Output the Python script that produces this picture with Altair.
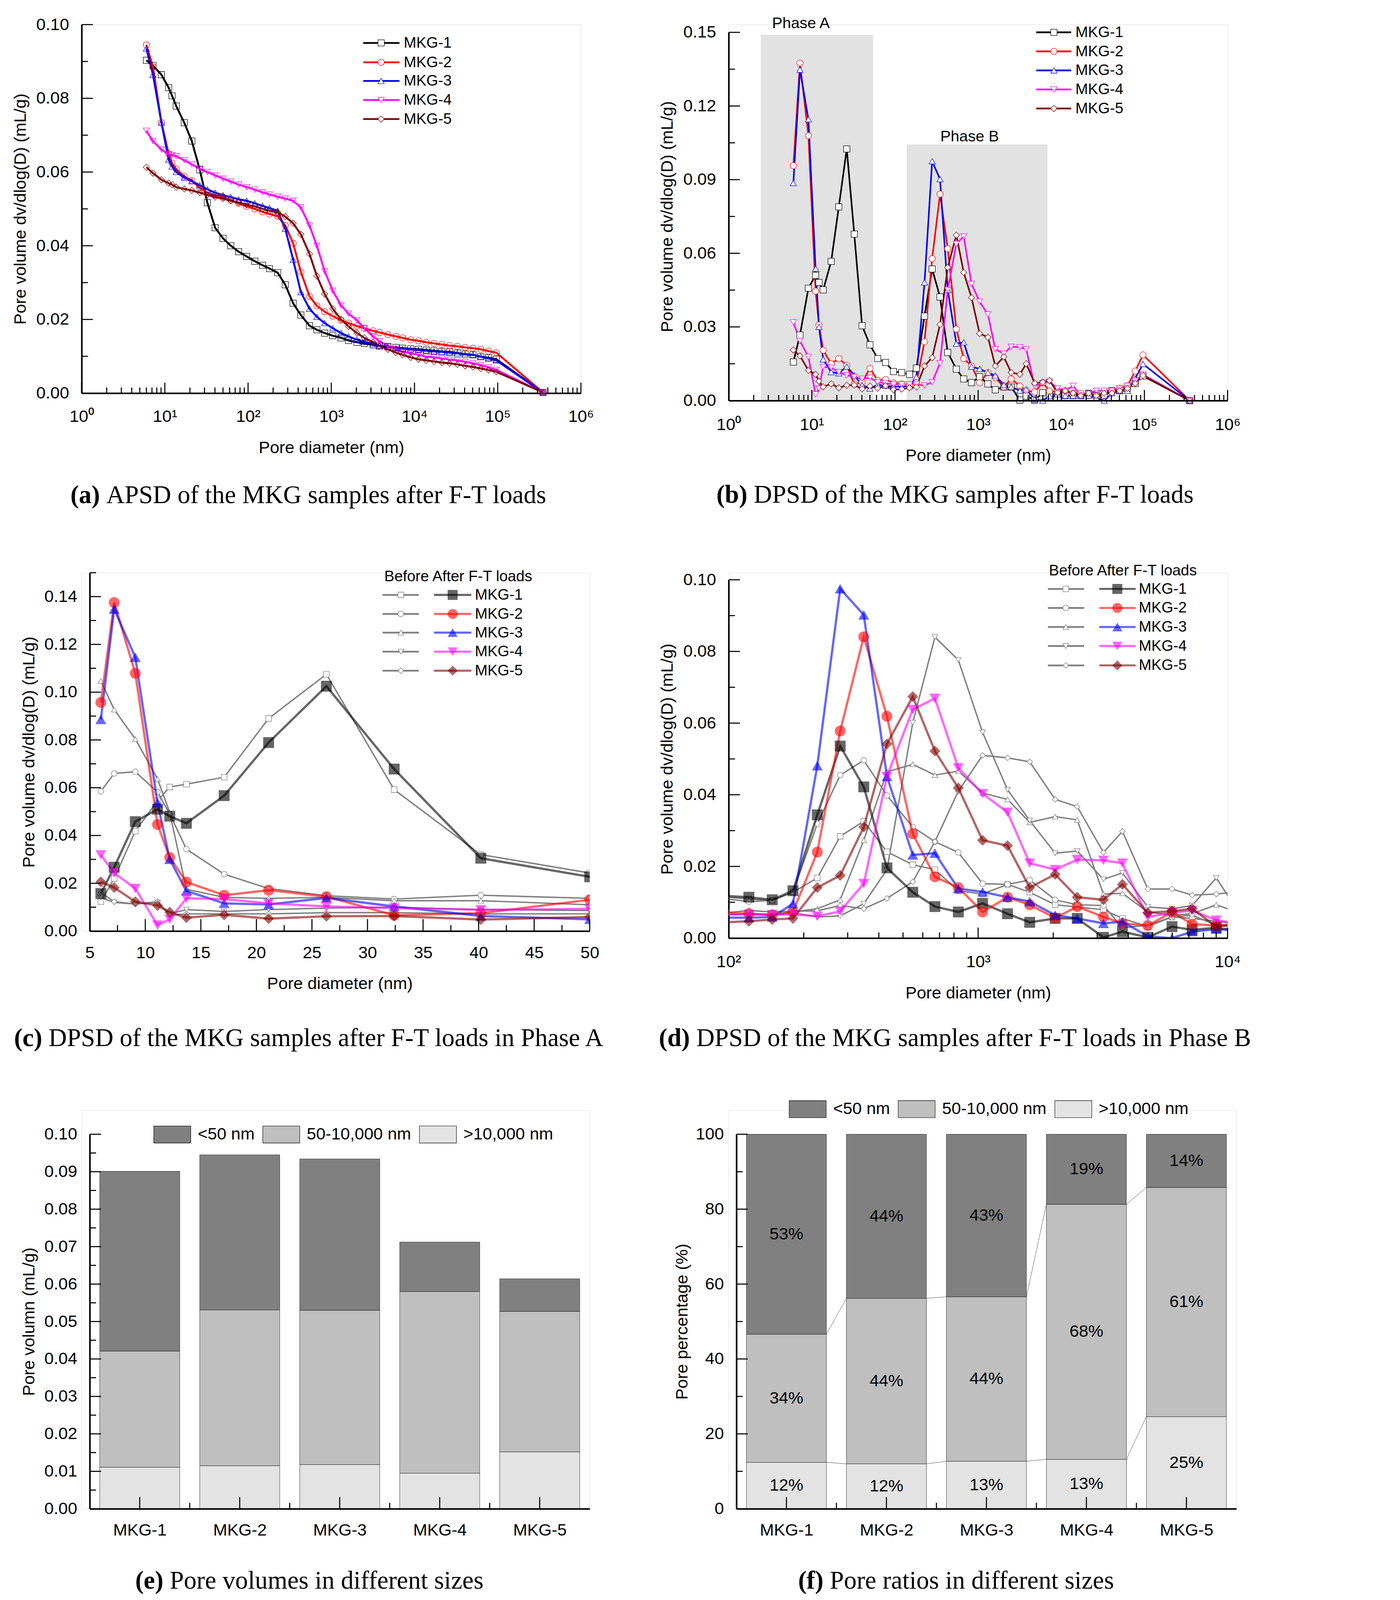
import json
import altair as alt
import numpy as np
import pandas as pd

# ---------------- data ----------------
SERIES = ["MKG-1", "MKG-2", "MKG-3", "MKG-4", "MKG-5"]
COLORS = ["#000000", "#ff0000", "#0000ff", "#ff00ff", "#800000"]
SHAPES = ["square", "circle", "triangle-up", "triangle-down", "diamond"]
BEFORE_COLOR = "#808080"

# pore diameters (nm) of the intrusion points
D_ALL = [6.0, 7.2, 9.1, 11.1, 12.2, 13.7, 17.1, 21.1, 26.3, 32.4, 40.2, 50.0,
         62, 77, 96,
         120.5, 149.5, 181, 226.6, 280, 348, 431, 547, 671, 833,
         1042, 1312, 1610, 2036, 2496, 3180, 3788, 4787, 5987, 7210, 9010,
         11170, 13850, 17180, 21300, 26400, 32800, 40600, 50400, 62500, 77500, 96100,
         350000]

# (a) APSD
APSD_MKG1 = [0.0903, 0.0889, 0.0864, 0.0829, 0.0807, 0.0779, 0.0734, 0.0684, 0.0606, 0.0517, 0.0449, 0.0420,
             0.0400, 0.0384, 0.0371,
             0.0358, 0.0347, 0.0338, 0.0327, 0.0294, 0.0244, 0.0212, 0.0183, 0.0172, 0.0163,
             0.0156, 0.0150, 0.0143, 0.0138, 0.0135, 0.0131, 0.0128, 0.0126, 0.0124, 0.0122, 0.0120,
             0.0119, 0.0117, 0.0115, 0.0113, 0.0112, 0.0109, 0.0106, 0.0104, 0.0099, 0.0096, 0.0092,
             0.0002]
APSD_MKG2 = [0.0945, 0.0885, 0.0734, 0.0650, 0.0624, 0.0608, 0.0588, 0.0577, 0.0557, 0.0544, 0.0537, 0.0532,
             0.0524, 0.0515, 0.0507,
             0.0500, 0.0492, 0.0486, 0.0480, 0.0455, 0.0407, 0.0329, 0.0263, 0.0237, 0.0221,
             0.0209, 0.0198, 0.0190, 0.0182, 0.0176, 0.0169, 0.0165, 0.0159, 0.0154, 0.0150, 0.0145,
             0.0142, 0.0138, 0.0135, 0.0132, 0.0129, 0.0127, 0.0124, 0.0122, 0.0119, 0.0114, 0.0110,
             0.0002]
APSD_MKG3 = [0.0935, 0.0864, 0.0734, 0.0634, 0.0615, 0.0600, 0.0585, 0.0575, 0.0564, 0.0553, 0.0544, 0.0537,
             0.0532, 0.0526, 0.0522,
             0.0515, 0.0508, 0.0502, 0.0495, 0.0446, 0.0362, 0.0274, 0.0229, 0.0207, 0.0190,
             0.0176, 0.0163, 0.0154, 0.0145, 0.0139, 0.0134, 0.0129, 0.0126, 0.0122, 0.0120, 0.0119,
             0.0117, 0.0115, 0.0113, 0.0112, 0.0110, 0.0108, 0.0105, 0.0104, 0.0099, 0.0094, 0.0089,
             0.0002]
APSD_MKG4 = [0.0712, 0.0684, 0.0661, 0.0648, 0.0646, 0.0643, 0.0632, 0.0621, 0.0609, 0.0600, 0.0591, 0.0582,
             0.0574, 0.0566, 0.0559,
             0.0552, 0.0545, 0.0539, 0.0533, 0.0528, 0.0522, 0.0504, 0.0455, 0.0400, 0.0331,
             0.0278, 0.0238, 0.0216, 0.0198, 0.0176, 0.0154, 0.0141, 0.0128, 0.0119, 0.0112, 0.0108,
             0.0104, 0.0099, 0.0097, 0.0094, 0.0091, 0.0089, 0.0085, 0.0081, 0.0076, 0.0070, 0.0063,
             0.0002]
APSD_MKG5 = [0.0613, 0.0597, 0.0579, 0.0570, 0.0566, 0.0559, 0.0554, 0.0550, 0.0544, 0.0538, 0.0532, 0.0528,
             0.0522, 0.0517, 0.0511,
             0.0507, 0.0500, 0.0495, 0.0491, 0.0479, 0.0461, 0.0431, 0.0378, 0.0318, 0.0269,
             0.0229, 0.0200, 0.0181, 0.0163, 0.0150, 0.0138, 0.0128, 0.0119, 0.0110, 0.0104, 0.0097,
             0.0092, 0.0089, 0.0086, 0.0083, 0.0081, 0.0078, 0.0074, 0.0071, 0.0067, 0.0063, 0.0058,
             0.0002]

# (b) DPSD after F-T loads (also the "after" curves of c and d)
DPSD_MKG1 = [0.0157, 0.0267, 0.0458, 0.0510, 0.0481, 0.0451, 0.0567, 0.0789, 0.1025, 0.0678, 0.0305, 0.0227,
             0.0171, 0.0155, 0.0118,
             0.0114, 0.0107, 0.0132, 0.0344, 0.0536, 0.0422, 0.0196, 0.0128, 0.0088, 0.0073,
             0.0097, 0.0068, 0.0044, 0.0055, 0.0055, 0.0002, 0.0018, 0.0002, 0.0032, 0.0023, 0.0029,
             0.0020, 0.0020, 0.0020, 0.0030, 0.0020, 0.0030, 0.0040, 0.0040, 0.0050, 0.0070, 0.0100,
             0.0000]
DPSD_MKG2 = [0.0957, 0.1375, 0.1079, 0.0446, 0.0308, 0.0205, 0.0150, 0.0171, 0.0144, 0.0066, 0.0075, 0.0131,
             0.0082, 0.0086, 0.0072,
             0.0068, 0.0064, 0.0073, 0.0240, 0.0578, 0.0841, 0.0619, 0.0291, 0.0171, 0.0141,
             0.0073, 0.0114, 0.0093, 0.0056, 0.0088, 0.0059, 0.0041, 0.0035, 0.0073, 0.0039, 0.0035,
             0.0040, 0.0030, 0.0030, 0.0020, 0.0020, 0.0020, 0.0040, 0.0050, 0.0060, 0.0120, 0.0186,
             0.0000]
DPSD_MKG3 = [0.0886, 0.1348, 0.1146, 0.0537, 0.0300, 0.0168, 0.0116, 0.0111, 0.0139, 0.0103, 0.0063, 0.0049,
             0.0065, 0.0060, 0.0057,
             0.0057, 0.0059, 0.0096, 0.0481, 0.0975, 0.0902, 0.0451, 0.0232, 0.0237, 0.0138,
             0.0129, 0.0114, 0.0102, 0.0064, 0.0055, 0.0041, 0.0046, 0.0005, 0.0000, 0.0018, 0.0025,
             0.0020, 0.0020, 0.0020, 0.0020, 0.0010, 0.0000, 0.0030, 0.0040, 0.0040, 0.0090, 0.0149,
             0.0000]
DPSD_MKG4 = [0.0319, 0.0243, 0.0178, 0.0025, 0.0049, 0.0137, 0.0134, 0.0116, 0.0103, 0.0096, 0.0089, 0.0093,
             0.0075, 0.0070, 0.0066,
             0.0066, 0.0066, 0.0066, 0.0061, 0.0075, 0.0152, 0.0451, 0.0638, 0.0669, 0.0475,
             0.0403, 0.0351, 0.0209, 0.0191, 0.0219, 0.0217, 0.0209, 0.0059, 0.0071, 0.0077, 0.0050,
             0.0040, 0.0060, 0.0020, 0.0030, 0.0040, 0.0040, 0.0040, 0.0050, 0.0060, 0.0080, 0.0106,
             0.0000]
DPSD_MKG5 = [0.0206, 0.0182, 0.0123, 0.0107, 0.0079, 0.0056, 0.0068, 0.0052, 0.0062, 0.0063, 0.0048, 0.0059,
             0.0050, 0.0060, 0.0044,
             0.0047, 0.0052, 0.0055, 0.0141, 0.0175, 0.0310, 0.0542, 0.0674, 0.0522, 0.0419,
             0.0273, 0.0258, 0.0141, 0.0178, 0.0114, 0.0107, 0.0150, 0.0071, 0.0075, 0.0082, 0.0032,
             0.0040, 0.0030, 0.0020, 0.0030, 0.0020, 0.0030, 0.0030, 0.0040, 0.0050, 0.0070, 0.0102,
             0.0000]

# (c) Phase A, before F-T loads (diameters = D_ALL[:12])
BEFORE_A_MKG1 = [0.0123, 0.0220, 0.0418, 0.0545, 0.0603, 0.0615, 0.0644, 0.0890, 0.1075, 0.0592, 0.0320, 0.0243]
BEFORE_A_MKG2 = [0.0585, 0.0660, 0.0667, 0.0582, 0.0490, 0.0343, 0.0238, 0.0178, 0.0148, 0.0134, 0.0150, 0.0137]
BEFORE_A_MKG3 = [0.1047, 0.0927, 0.0804, 0.0637, 0.0496, 0.0175, 0.0141, 0.0137, 0.0141, 0.0127, 0.0127, 0.0110]
BEFORE_A_MKG4 = [0.0140, 0.0120, 0.0113, 0.0120, 0.0072, 0.0090, 0.0082, 0.0090, 0.0096, 0.0100, 0.0090, 0.0086]
BEFORE_A_MKG5 = [0.0161, 0.0123, 0.0113, 0.0123, 0.0066, 0.0072, 0.0072, 0.0072, 0.0077, 0.0077, 0.0072, 0.0072]

# (d) Phase B, before F-T loads (diameters = D_ALL[14:37])
BEFORE_B_MKG1 = [0.0115, 0.0109, 0.0105, 0.0128, 0.0168, 0.0284, 0.0326, 0.0241, 0.0205, 0.0191, 0.0132,
                 0.0123, 0.0150, 0.0128, 0.0093, 0.0087, 0.0079, 0.0055, 0.0032, 0.0059, 0.0064, 0.0036, 0.0030]
BEFORE_B_MKG2 = [0.0110, 0.0102, 0.0105, 0.0128, 0.0319, 0.0455, 0.0496, 0.0398, 0.0310, 0.0269, 0.0239,
                 0.0152, 0.0150, 0.0162, 0.0107, 0.0093, 0.0091, 0.0029, 0.0036, 0.0059, 0.0055, 0.0047, 0.0040]
BEFORE_B_MKG3 = [0.0065, 0.0068, 0.0064, 0.0073, 0.0082, 0.0107, 0.0273, 0.0464, 0.0485, 0.0455, 0.0466,
                 0.0405, 0.0387, 0.0323, 0.0339, 0.0330, 0.0123, 0.0125, 0.0073, 0.0064, 0.0068, 0.0093, 0.0070]
BEFORE_B_MKG4 = [0.0065, 0.0068, 0.0066, 0.0071, 0.0059, 0.0062, 0.0096, 0.0191, 0.0601, 0.0840, 0.0776,
                 0.0574, 0.0414, 0.0328, 0.0237, 0.0243, 0.0164, 0.0182, 0.0087, 0.0082, 0.0091, 0.0168, 0.0068]
BEFORE_B_MKG5 = [0.0070, 0.0077, 0.0073, 0.0075, 0.0076, 0.0091, 0.0082, 0.0111, 0.0157, 0.0269, 0.0410,
                 0.0510, 0.0503, 0.0492, 0.0387, 0.0367, 0.0239, 0.0298, 0.0137, 0.0137, 0.0120, 0.0123, 0.0130]

# phase bands of (b)
PHASE_NAMES = ["Phase A", "Phase B"]
PHASE_X1 = [2.43, 138]
PHASE_X2 = [54.6, 6840]
PHASE_TOP = [0.149, 0.1044]
PHASE_LABEL_X = [7.4, 791]
PHASE_LABEL_Y = [0.1537, 0.1075]

# (e) pore volumes (mL/g) and (f) ratios (%)
CLASSES = ["<50 nm", "50-10,000 nm", ">10,000 nm"]
BAR_COLORS = ["#808080", "#bfbfbf", "#e3e3e3"]
VOL_LT50 = [0.0480, 0.0414, 0.0404, 0.0132, 0.0087]
VOL_MID = [0.0310, 0.0416, 0.0412, 0.0485, 0.0375]
VOL_GT10K = [0.0111, 0.0115, 0.0118, 0.0095, 0.0152]
PCT_LT50 = [53.4, 43.8, 43.4, 18.7, 14.2]
PCT_MID = [34.2, 44.2, 43.9, 68.1, 61.2]
PCT_GT10K = [12.4, 12.0, 12.7, 13.2, 24.6]

for lst in (APSD_MKG1, APSD_MKG2, APSD_MKG3, APSD_MKG4, APSD_MKG5,
            DPSD_MKG1, DPSD_MKG2, DPSD_MKG3, DPSD_MKG4, DPSD_MKG5):
    assert len(lst) == len(D_ALL)
for lst in (BEFORE_B_MKG1, BEFORE_B_MKG2, BEFORE_B_MKG3, BEFORE_B_MKG4, BEFORE_B_MKG5):
    assert len(lst) == 23

# ---------------- layout scale ----------------
# all geometry below is written in reference-image pixels and converted to CSS px with S
S = 0.902


def P(v):
    return v * S


FONT = "Liberation Sans"
SERIF = "Liberation Serif"
CAP_FS = 72
ONE = pd.DataFrame({"k": [0]})
COLOR_SC = alt.Scale(domain=SERIES, range=COLORS)
SHAPE_SC = alt.Scale(domain=SERIES, range=SHAPES)

SUPS = ["\u2070", "\u00b9", "\u00b2", "\u00b3", "\u2074", "\u2075", "\u2076"]
LOG_LABEL = "'10' + " + json.dumps(SUPS, ensure_ascii=False) + "[round(log(datum.value) / LN10)]"
CAT_LABEL = json.dumps([""] + SERIES) + "[datum.value]"

REG_W = {' ': 250, '(': 333, ')': 333, '-': 333, 'A': 722, 'B': 667, 'D': 722, 'F': 556, 'G': 722,
         'K': 722, 'M': 889, 'P': 556, 'S': 556, 'T': 611, 'a': 444, 'b': 500, 'c': 444, 'd': 500,
         'e': 444, 'f': 333, 'g': 500, 'h': 500, 'i': 278, 'l': 278, 'm': 778, 'n': 500, 'o': 500,
         'p': 500, 'r': 333, 's': 389, 't': 278, 'u': 500, 'v': 500, 'z': 444}
BOLD_W = {'(': 333, ')': 333, 'a': 500, 'b': 556, 'c': 444, 'd': 556, 'e': 444, 'f': 333}


def tw(s, table):
    return sum(table.get(ch, 500) for ch in s) / 1000.0


def long_df(xs, lists):
    rows = []
    for name, ys in zip(SERIES, lists):
        for x, y in zip(xs, ys):
            rows.append({"x": x, "y": y, "s": name})
    return pd.DataFrame(rows)


def make_x_axis(title, values, pad, title_y=None, fmt=None, label_expr=None, z=0):
    kw = dict(values=values, ticks=False, grid=False, domainColor="black", domainWidth=P(4.5),
              labelFont=FONT, labelFontSize=P(48), labelColor="black", labelPadding=P(pad),
              labelFlush=False, labelOverlap=False, labelAngle=0, zindex=z)
    if fmt:
        kw["format"] = fmt
    if label_expr:
        kw["labelExpr"] = label_expr
    if title:
        kw.update(title=title, titleFont=FONT, titleFontSize=P(48), titleFontWeight="normal",
                  titleColor="black", titleY=P(title_y), titleBaseline="middle")
    else:
        kw["title"] = None
    return alt.Axis(**kw)


def make_y_axis(title, values, title_x, fmt, offset=0, z=0):
    kw = dict(values=values, ticks=False, grid=False, domainColor="black", domainWidth=P(4.5),
              labelFont=FONT, labelFontSize=P(48), labelColor="black", labelPadding=P(36),
              labelOverlap=False, labelFlush=False, format=fmt,
              title=title, titleFont=FONT, titleFontSize=P(48), titleFontWeight="normal",
              titleColor="black", titleX=P(title_x), titleAngle=270, titleBaseline="middle", zindex=z)
    if offset:
        kw["offset"] = P(offset)
    return alt.Axis(**kw)


def tick_layers(xsc, ysc, xax, yax, xmaj, xmin, ymaj, ymin, offx, bottom, xl=(30, 16), yl=(32, 18)):
    out = []
    for vals, ln in ((ymaj, yl[0]), (ymin, yl[1])):
        out.append(alt.Chart(pd.DataFrame({"y": vals})).mark_rule(color="black", strokeWidth=P(3)).encode(
            y=alt.Y("y:Q", scale=ysc, axis=yax), x=alt.value(P(offx)), x2=alt.value(P(offx + ln))))
    for vals, ln in ((xmaj, xl[0]), (xmin, xl[1])):
        out.append(alt.Chart(pd.DataFrame({"x": vals})).mark_rule(color="black", strokeWidth=P(3)).encode(
            x=alt.X("x:Q", scale=xsc, axis=xax), y=alt.value(P(bottom)), y2=alt.value(P(bottom - ln))))
    return out


def caption(letter, text, cx, cy):
    b = "(" + letter + ")"
    wb = tw(b, BOLD_W) * CAP_FS
    ws = 0.25 * CAP_FS
    wr = tw(text, REG_W) * CAP_FS
    left = cx - (wb + ws + wr) / 2
    return [
        alt.Chart(ONE).mark_text(font=SERIF, fontSize=P(CAP_FS), fontWeight="bold", align="left",
                                 baseline="middle", color="black").encode(
            x=alt.value(P(left)), y=alt.value(P(cy)), text=alt.value(b)),
        alt.Chart(ONE).mark_text(font=SERIF, fontSize=P(CAP_FS), align="left", baseline="middle",
                                 color="black").encode(
            x=alt.value(P(left + wb + ws)), y=alt.value(P(cy)), text=alt.value(text)),
    ]


def legend_ab(rows, x0, x1, xm, xl, lw):
    out = []
    for i, name in enumerate(SERIES):
        y = P(rows[i])
        out.append(alt.Chart(ONE).mark_rule(color=COLORS[i], strokeWidth=P(lw)).encode(
            x=alt.value(P(x0)), x2=alt.value(P(x1)), y=alt.value(y)))
        out.append(alt.Chart(ONE).mark_point(shape=SHAPES[i], filled=True, fill="white", stroke=COLORS[i],
                                             strokeWidth=P(1.4), size=P(P(320)), opacity=1).encode(
            x=alt.value(P(xm)), y=alt.value(y)))
        out.append(alt.Chart(ONE).mark_text(font=FONT, fontSize=P(43), align="left", baseline="middle",
                                            color="black").encode(
            x=alt.value(P(xl)), y=alt.value(y), text=alt.value(name)))
    return out


def legend_cd(hx, hy, rows, bx0, bx1, bm, ax0, ax1, am, xl):
    out = [alt.Chart(ONE).mark_text(font=FONT, fontSize=P(43), align="left", baseline="middle",
                                    color="black").encode(
        x=alt.value(P(hx)), y=alt.value(P(hy)), text=alt.value("Before After F-T loads"))]
    for i, name in enumerate(SERIES):
        y = P(rows[i])
        out.append(alt.Chart(ONE).mark_rule(color=BEFORE_COLOR, strokeWidth=P(5)).encode(
            x=alt.value(P(bx0)), x2=alt.value(P(bx1)), y=alt.value(y)))
        out.append(alt.Chart(ONE).mark_point(shape=SHAPES[i], filled=True, fill="white", stroke=BEFORE_COLOR,
                                             strokeWidth=P(1.5), size=P(P(260)), opacity=1).encode(
            x=alt.value(P(bm)), y=alt.value(y)))
        out.append(alt.Chart(ONE).mark_rule(color=COLORS[i], strokeWidth=P(6), opacity=0.6).encode(
            x=alt.value(P(ax0)), x2=alt.value(P(ax1)), y=alt.value(y)))
        out.append(alt.Chart(ONE).mark_point(shape=SHAPES[i], filled=True, color=COLORS[i], size=P(P(800)),
                                             opacity=0.6, strokeWidth=0).encode(
            x=alt.value(P(am)), y=alt.value(y)))
        out.append(alt.Chart(ONE).mark_text(font=FONT, fontSize=P(43), align="left", baseline="middle",
                                            color="black").encode(
            x=alt.value(P(xl)), y=alt.value(y), text=alt.value(name)))
    return out


def xscale(OX, W, **kw):
    return alt.Scale(range=[P(OX), P(OX + W)], **kw)


def yscale(OY, H, dom):
    return alt.Scale(domain=dom, range=[P(OY + H), P(OY)], nice=False, zero=False)


LOG_MAJ_6 = [10.0 ** e for e in range(7)]
LOG_MIN_6 = [k * 10.0 ** e for e in range(6) for k in range(2, 10)]

# ---------------- panel (a) ----------------
OX, OY, W, H = 0, 0, 1417, 1046
xs = xscale(OX, W, type="log", domain=[1, 1e6])
ys = yscale(OY, H, [0, 0.10])
xax = make_x_axis("Pore diameter (nm)", LOG_MAJ_6, 43, 155, label_expr=LOG_LABEL)
yax = make_y_axis("Pore volume dv/dlog(D) (mL/g)", [0, 0.02, 0.04, 0.06, 0.08, 0.10], -174, ".2f")
df_a = long_df(D_ALL, [APSD_MKG1, APSD_MKG2, APSD_MKG3, APSD_MKG4, APSD_MKG5])
layers = [
    alt.Chart(df_a).mark_line(strokeWidth=P(5.5)).encode(
        x=alt.X("x:Q", scale=xs, axis=xax), y=alt.Y("y:Q", scale=ys, axis=yax),
        color=alt.Color("s:N", scale=COLOR_SC, legend=None)),
    alt.Chart(df_a).mark_point(filled=False, size=P(P(320)), strokeWidth=P(1.4), opacity=1).encode(
        x=alt.X("x:Q", scale=xs, axis=xax), y=alt.Y("y:Q", scale=ys, axis=yax),
        color=alt.Color("s:N", scale=COLOR_SC, legend=None),
        shape=alt.Shape("s:N", scale=SHAPE_SC, legend=None)),
]
layers += tick_layers(xs, ys, xax, yax, LOG_MAJ_6, LOG_MIN_6, [0, 0.02, 0.04, 0.06, 0.08, 0.10],
                      [0.01, 0.03, 0.05, 0.07, 0.09], OX, OY + H)
layers += legend_ab([52, 107, 160, 214, 268], 799, 902, 850, 914, 5)
layers += caption("a", "APSD of the MKG samples after F-T loads", 644, 1337)
# invisible anchor fixing the top-left of the whole figure (page margin is 8 CSS px)
layers.append(alt.Chart(ONE).mark_rule(opacity=0, strokeWidth=1).encode(
    x=alt.value(-(P(231) - 8) + 0.5), x2=alt.value(-(P(231) - 8) + 1.5), y=alt.value(-(P(69) - 8) + 0.5)))
panel_a = alt.layer(*layers).properties(width=P(OX + W), height=P(OY + H))

# ---------------- panel (b) ----------------
OX, OY, W, H = 0, 22, 1416, 1045
xs = xscale(OX, W, type="log", domain=[1, 1e6])
ys = yscale(OY, H, [0, 0.15])
xax = make_x_axis("Pore diameter (nm)", LOG_MAJ_6, 45, 156, label_expr=LOG_LABEL, z=1)
yax = make_y_axis("Pore volume dv/dlog(D) (mL/g)", [0, 0.03, 0.06, 0.09, 0.12, 0.15], -174, ".2f", z=1)
df_b = long_df(D_ALL, [DPSD_MKG1, DPSD_MKG2, DPSD_MKG3, DPSD_MKG4, DPSD_MKG5])
df_phase = pd.DataFrame({"x": PHASE_X1, "x2": PHASE_X2, "y": [0, 0], "y2": PHASE_TOP})
df_plab = pd.DataFrame({"x": PHASE_LABEL_X, "y": PHASE_LABEL_Y, "t": PHASE_NAMES})
layers = [
    alt.Chart(df_phase).mark_rect(color="#e2e2e2").encode(
        x=alt.X("x:Q", scale=xs, axis=xax), x2="x2:Q",
        y=alt.Y("y:Q", scale=ys, axis=yax), y2="y2:Q"),
    alt.Chart(df_plab).mark_text(font=FONT, fontSize=P(44), color="black", baseline="middle").encode(
        x=alt.X("x:Q", scale=xs, axis=xax), y=alt.Y("y:Q", scale=ys, axis=yax), text="t:N"),
    alt.Chart(df_b).mark_line(strokeWidth=P(4.5)).encode(
        x=alt.X("x:Q", scale=xs, axis=xax), y=alt.Y("y:Q", scale=ys, axis=yax),
        color=alt.Color("s:N", scale=COLOR_SC, legend=None)),
    alt.Chart(df_b).mark_point(filled=True, fill="white", size=P(P(320)), strokeWidth=P(1.4), opacity=1).encode(
        x=alt.X("x:Q", scale=xs, axis=xax), y=alt.Y("y:Q", scale=ys, axis=yax),
        stroke=alt.Stroke("s:N", scale=COLOR_SC, legend=None),
        shape=alt.Shape("s:N", scale=SHAPE_SC, legend=None)),
]
layers += tick_layers(xs, ys, xax, yax, LOG_MAJ_6, LOG_MIN_6, [0, 0.03, 0.06, 0.09, 0.12, 0.15],
                      [0.015, 0.045, 0.075, 0.105, 0.135], OX, OY + H)
layers += legend_ab([OY + r for r in [0, 54, 108, 162, 216]], 873, 972, 923, 984, 5)
layers += caption("b", "DPSD of the MKG samples after F-T loads", 643, OY + 1314)
panel_b = alt.layer(*layers).properties(width=P(OX + W), height=P(OY + H))

# ---------------- panel (c) ----------------
OX, OY, W, H = 23, 0, 1419, 1017
xs = xscale(OX, W, domain=[5, 50], nice=False, zero=False)
ys = yscale(OY, H, [0, 0.15])
xax = make_x_axis("Pore diameter (nm)", list(range(5, 55, 5)), 39, 150, fmt="d")
yax = make_y_axis("Pore volume dv/dlog(D) (mL/g)", [round(0.02 * i, 2) for i in range(8)], -172, ".2f",
                  offset=-OX)
df_cb = long_df(D_ALL[:12], [BEFORE_A_MKG1, BEFORE_A_MKG2, BEFORE_A_MKG3, BEFORE_A_MKG4, BEFORE_A_MKG5])
df_ca = long_df(D_ALL[:13], [DPSD_MKG1[:13], DPSD_MKG2[:13], DPSD_MKG3[:13], DPSD_MKG4[:13], DPSD_MKG5[:13]])
layers = [
    alt.Chart(df_cb).mark_line(color=BEFORE_COLOR, strokeWidth=P(4), clip=True).encode(
        x=alt.X("x:Q", scale=xs, axis=xax), y=alt.Y("y:Q", scale=ys, axis=yax), detail="s:N"),
    alt.Chart(df_cb).mark_point(filled=True, fill="white", stroke=BEFORE_COLOR, size=P(P(260)),
                                strokeWidth=P(1.5), opacity=1, clip=True).encode(
        x=alt.X("x:Q", scale=xs, axis=xax), y=alt.Y("y:Q", scale=ys, axis=yax),
        shape=alt.Shape("s:N", scale=SHAPE_SC, legend=None)),
    alt.Chart(df_ca).mark_line(strokeWidth=P(6.5), opacity=0.6, clip=True).encode(
        x=alt.X("x:Q", scale=xs, axis=xax), y=alt.Y("y:Q", scale=ys, axis=yax),
        color=alt.Color("s:N", scale=COLOR_SC, legend=None)),
    alt.Chart(df_ca).mark_point(filled=True, size=P(P(950)), opacity=0.6, strokeWidth=0, clip=True).encode(
        x=alt.X("x:Q", scale=xs, axis=xax), y=alt.Y("y:Q", scale=ys, axis=yax),
        color=alt.Color("s:N", scale=COLOR_SC, legend=None),
        shape=alt.Shape("s:N", scale=SHAPE_SC, legend=None)),
]
layers += tick_layers(xs, ys, xax, yax, list(range(5, 55, 5)), [7.5 + 5 * i for i in range(9)],
                      [round(0.02 * i, 2) for i in range(8)], [round(0.01 + 0.02 * i, 3) for i in range(8)],
                      OX, OY + H, xl=(34, 17))
layers += legend_cd(OX + 836, OY + 11, [OY + r for r in [63, 117, 170, 224, 278]],
                    OX + 831, OX + 934, OX + 883, OX + 977, OX + 1083, OX + 1030, OX + 1093)
layers += caption("c", "DPSD of the MKG samples after F-T loads in Phase A", OX + 624, OY + 1322)
panel_c = alt.layer(*layers).properties(width=P(OX + W), height=P(OY + H))

# ---------------- panel (d) ----------------
OX, OY, W, H = 0, 20, 1416, 1017
xs = xscale(OX, W, type="log", domain=[100, 1e4])
ys = yscale(OY, H, [0, 0.10])
xax = make_x_axis("Pore diameter (nm)", [100.0, 1000.0, 10000.0], 44, 156, label_expr=LOG_LABEL)
yax = make_y_axis("Pore volume dv/dlog(D) (mL/g)", [0, 0.02, 0.04, 0.06, 0.08, 0.10], -174, ".2f")
D_B = D_ALL[14:37]
df_db = long_df(D_B, [BEFORE_B_MKG1, BEFORE_B_MKG2, BEFORE_B_MKG3, BEFORE_B_MKG4, BEFORE_B_MKG5])
df_da = long_df(D_B, [DPSD_MKG1[14:37], DPSD_MKG2[14:37], DPSD_MKG3[14:37], DPSD_MKG4[14:37], DPSD_MKG5[14:37]])
layers = [
    alt.Chart(df_db).mark_line(color=BEFORE_COLOR, strokeWidth=P(4), clip=True).encode(
        x=alt.X("x:Q", scale=xs, axis=xax), y=alt.Y("y:Q", scale=ys, axis=yax), detail="s:N"),
    alt.Chart(df_db).mark_point(filled=True, fill="white", stroke=BEFORE_COLOR, size=P(P(260)),
                                strokeWidth=P(1.5), opacity=1, clip=True).encode(
        x=alt.X("x:Q", scale=xs, axis=xax), y=alt.Y("y:Q", scale=ys, axis=yax),
        shape=alt.Shape("s:N", scale=SHAPE_SC, legend=None)),
    alt.Chart(df_da).mark_line(strokeWidth=P(6.5), opacity=0.6, clip=True).encode(
        x=alt.X("x:Q", scale=xs, axis=xax), y=alt.Y("y:Q", scale=ys, axis=yax),
        color=alt.Color("s:N", scale=COLOR_SC, legend=None)),
    alt.Chart(df_da).mark_point(filled=True, size=P(P(950)), opacity=0.6, strokeWidth=0, clip=True).encode(
        x=alt.X("x:Q", scale=xs, axis=xax), y=alt.Y("y:Q", scale=ys, axis=yax),
        color=alt.Color("s:N", scale=COLOR_SC, legend=None),
        shape=alt.Shape("s:N", scale=SHAPE_SC, legend=None)),
]
layers += tick_layers(xs, ys, xax, yax, [100.0, 1000.0, 10000.0],
                      [k * 10.0 ** e for e in (2, 3) for k in range(2, 10)],
                      [0, 0.02, 0.04, 0.06, 0.08, 0.10], [0.01, 0.03, 0.05, 0.07, 0.09], OX, OY + H)
layers += legend_cd(909, OY - 26, [OY + r for r in [26, 80, 134, 188, 243]],
                    906, 1009, 957, 1052, 1155, 1103, 1164)
layers += caption("d", "DPSD of the MKG samples after F-T loads in Phase B", 643, OY + 1302)
panel_d = alt.layer(*layers).properties(width=P(OX + W), height=P(OY + H))


# ---------------- panels (e) and (f) ----------------
def bar_panel(letter, text, lt, mid, gt, OX, OY, W, H, ydom, ymaj, ymin, yfmt, ytitle, title_x,
              leg_x, leg_y, with_labels):
    xs = xscale(OX, W, domain=[0.5, 5.5], nice=False, zero=False)
    ys = yscale(OY, H, ydom)
    xax = make_x_axis(None, [1, 2, 3, 4, 5], 38, label_expr=CAT_LABEL, z=1)
    yax = make_y_axis(ytitle, ymaj, title_x, yfmt, offset=-OX, z=1)
    rows, labs, bnd = [], [], []
    for i in range(len(SERIES)):
        c = i + 1
        base = 0.0
        bl = []
        for cls, v in ((CLASSES[2], gt[i]), (CLASSES[1], mid[i]), (CLASSES[0], lt[i])):
            rows.append({"x": c - 0.4, "x2": c + 0.4, "y": base, "y2": base + v, "c": cls})
            labs.append({"x": c, "y": base + v / 2, "v": v})
            base += v
            bl.append(base)
        bnd.append(bl)
    df = pd.DataFrame(rows)
    layers = [
        alt.Chart(df).mark_bar(stroke="black", strokeWidth=P(1), strokeOpacity=0.85).encode(
            x=alt.X("x:Q", scale=xs, axis=xax), x2="x2:Q",
            y=alt.Y("y:Q", scale=ys, axis=yax), y2="y2:Q",
            fill=alt.Fill("c:N", scale=alt.Scale(domain=CLASSES, range=BAR_COLORS),
                          legend=alt.Legend(title=None, orient="none", legendX=P(leg_x), legendY=P(leg_y),
                                            direction="horizontal", symbolType="M-1,-0.46H1V0.46H-1Z",
                                            symbolSize=P(105) ** 2, symbolStrokeColor="black",
                                            symbolStrokeWidth=P(1.2), symbolOpacity=1,
                                            labelFont=FONT, labelFontSize=P(48), labelColor="black",
                                            labelLimit=0, labelOffset=P(19), columnPadding=P(20),
                                            padding=0))),
    ]
    if with_labels:
        conn = []
        for i in range(len(SERIES) - 1):
            for k in (0, 1):
                conn.append({"x": i + 1.4, "x2": i + 1.6, "y": bnd[i][k], "y2": bnd[i + 1][k]})
        layers.append(alt.Chart(pd.DataFrame(conn)).mark_rule(color="#404040", strokeWidth=P(1)).encode(
            x=alt.X("x:Q", scale=xs, axis=xax), x2="x2:Q",
            y=alt.Y("y:Q", scale=ys, axis=yax), y2="y2:Q"))
        layers.append(alt.Chart(pd.DataFrame(labs)).transform_calculate(
            t="format(datum.v, '.0f') + '%'").mark_text(
            font=FONT, fontSize=P(48), color="black", baseline="middle").encode(
            x=alt.X("x:Q", scale=xs, axis=xax), y=alt.Y("y:Q", scale=ys, axis=yax), text="t:N"))
    layers += tick_layers(xs, ys, xax, yax, [1, 2, 3, 4, 5], [1.5, 2.5, 3.5, 4.5], ymaj, ymin,
                          OX, OY + H, xl=(33, 17), yl=(32, 18))
    layers += caption(letter, text, OX + 624, OY + 1269)
    return alt.layer(*layers).properties(width=P(OX + W), height=P(OY + H))


panel_e = bar_panel("e", "Pore volumes in different sizes", VOL_LT50, VOL_MID, VOL_GT10K,
                    23, 68, 1419, 1063, [0, 0.10], [round(0.01 * i, 2) for i in range(11)],
                    [round(0.005 + 0.01 * i, 3) for i in range(10)], ".2f", "Pore volumn (mL/g)", -172,
                    23 + 181, 68 - 52.5, False)
panel_f = bar_panel("f", "Pore ratios in different sizes", PCT_LT50, PCT_MID, PCT_GT10K,
                    22, 68, 1419, 1063, [0, 100], [0, 20, 40, 60, 80, 100], [10, 30, 50, 70, 90],
                    "d", "Pore percentage (%)", -154, 22 + 149, 68 - 72 - 52.5, True)

chart = alt.concat(panel_a, panel_b, panel_c, panel_d, panel_e, panel_f, columns=2,
                   spacing={"row": P(488), "column": P(394)}, bounds="flush").resolve_scale(
    fill="independent").resolve_legend(fill="independent").properties(
    padding=0).configure_view(stroke=None).configure(font=FONT)

chart.save("out.html", embed_options={"renderer": "svg", "actions": False})
